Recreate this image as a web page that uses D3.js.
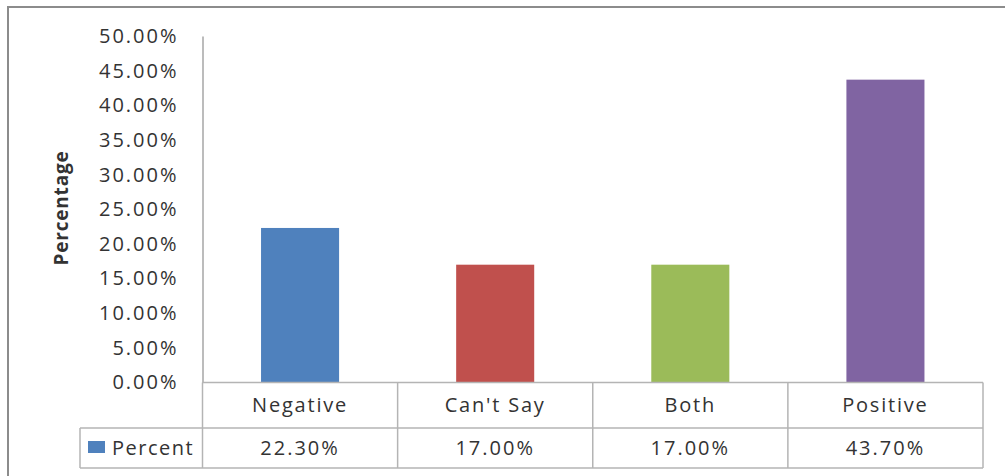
<!DOCTYPE html>
<html lang="en">
<head>
  <meta charset="UTF-8">
  <title>Percentage chart</title>
  <style>
    body { margin: 0; background: #fff; }
    text { font-family: "Open Sans", "DejaVu Sans", sans-serif; fill: #333; }
  </style>
</head>
<body>
  <svg class="chart"></svg>
  <script src="https://cdn.jsdelivr.net/npm/d3@7"></script>
  <script>
    var categories = ["Negative", "Can't Say", "Both", "Positive"];
    var percent = [22.30, 17.00, 17.00, 43.70];
    var colors = ["#4F81BD", "#C0504D", "#9BBB59", "#8064A2"];
    var yTicks = [0, 5, 10, 15, 20, 25, 30, 35, 40, 45, 50];
    var seriesName = "Percent";

    var width = 1005, height = 476;
    // note: "top" is taken by window.top, so use plotTop
    var plotLeft = 202.5, plotRight = 983, plotTop = 36, base = 382.5;
    var row1 = 428, row2 = 468, legendLeft = 80;

    var svg = d3.select("svg")
      .attr("width", width)
      .attr("height", height);

    // outer frame (right and bottom cut off in the original)
    svg.append("path")
      .attr("d", "M8,480 V7 H1010")
      .attr("fill", "none")
      .attr("stroke", "#8c8c8c")
      .attr("stroke-width", 2);

    var x = d3.scaleBand()
      .domain(categories)
      .range([plotLeft, plotRight])
      .paddingInner(0)
      .paddingOuter(0);

    var y = d3.scaleLinear()
      .domain([0, 50])
      .range([base, plotTop]);

    var barW = x.bandwidth() * 0.4;

    svg.selectAll("rect.bar")
      .data(percent)
      .enter()
      .append("rect")
      .attr("class", "bar")
      .attr("x", (d, i) => x(categories[i]) + (x.bandwidth() - barW) / 2)
      .attr("y", d => y(d))
      .attr("width", barW)
      .attr("height", d => base - y(d))
      .attr("fill", (d, i) => colors[i]);

    // y axis
    var yAxis = d3.axisLeft(y)
      .tickValues(yTicks)
      .tickSize(0)
      .tickPadding(24)
      .tickFormat(d => d.toFixed(2) + "%");

    var gy = svg.append("g")
      .attr("transform", `translate(${plotLeft},0)`)
      .call(yAxis);
    gy.select(".domain").attr("stroke", "#a6a6a6").attr("stroke-width", 1.5);
    gy.selectAll("text")
      .style("font-size", "20px")
      .style("font-family", "'Open Sans', sans-serif")
      .style("letter-spacing", "2px")
      .attr("fill", "#333");

    svg.append("text")
      .attr("transform", "translate(68,208) rotate(-90)")
      .attr("text-anchor", "middle")
      .style("font-size", "19px")
      .style("font-weight", "bold")
      .style("letter-spacing", "0.8px")
      .attr("fill", "#111")
      .text("Percentage");

    // data table
    var grid = svg.append("g")
      .attr("stroke", "#b4b4b4")
      .attr("stroke-width", 1.5)
      .attr("fill", "none");

    grid.append("line").attr("x1", plotLeft).attr("x2", plotRight).attr("y1", base).attr("y2", base);
    grid.append("line").attr("x1", legendLeft).attr("x2", plotRight).attr("y1", row1).attr("y2", row1);
    grid.append("line").attr("x1", legendLeft).attr("x2", plotRight).attr("y1", row2).attr("y2", row2);
    grid.append("line").attr("x1", legendLeft).attr("x2", legendLeft).attr("y1", row1).attr("y2", row2);
    grid.append("line").attr("x1", plotLeft).attr("x2", plotLeft).attr("y1", base).attr("y2", row2);

    var cols = x.domain().map(c => x(c) + x.bandwidth());
    grid.selectAll("line.col")
      .data(cols)
      .enter()
      .append("line")
      .attr("class", "col")
      .attr("x1", d => d).attr("x2", d => d)
      .attr("y1", base).attr("y2", row2);

    svg.selectAll("text.cat")
      .data(categories)
      .enter()
      .append("text")
      .attr("class", "cat")
      .attr("x", d => x(d) + x.bandwidth() / 2)
      .attr("y", (base + row1) / 2)
      .attr("dy", "0.35em")
      .attr("text-anchor", "middle")
      .style("font-size", "20px")
      .style("letter-spacing", "1.8px")
      .text(d => d);

    svg.selectAll("text.val")
      .data(percent)
      .enter()
      .append("text")
      .attr("class", "val")
      .attr("x", (d, i) => x(categories[i]) + x.bandwidth() / 2)
      .attr("y", (row1 + row2) / 2)
      .attr("dy", "0.35em")
      .attr("text-anchor", "middle")
      .style("font-size", "20px")
      .style("letter-spacing", "2px")
      .text(d => d.toFixed(2) + "%");

    // legend key
    svg.append("rect")
      .attr("x", 88).attr("y", 441)
      .attr("width", 17).attr("height", 12)
      .attr("fill", colors[0]);
    svg.append("text")
      .attr("x", 112)
      .attr("y", (row1 + row2) / 2)
      .attr("dy", "0.35em")
      .style("font-size", "20px")
      .style("letter-spacing", "1.5px")
      .text(seriesName);
  </script>
</body>
</html>
